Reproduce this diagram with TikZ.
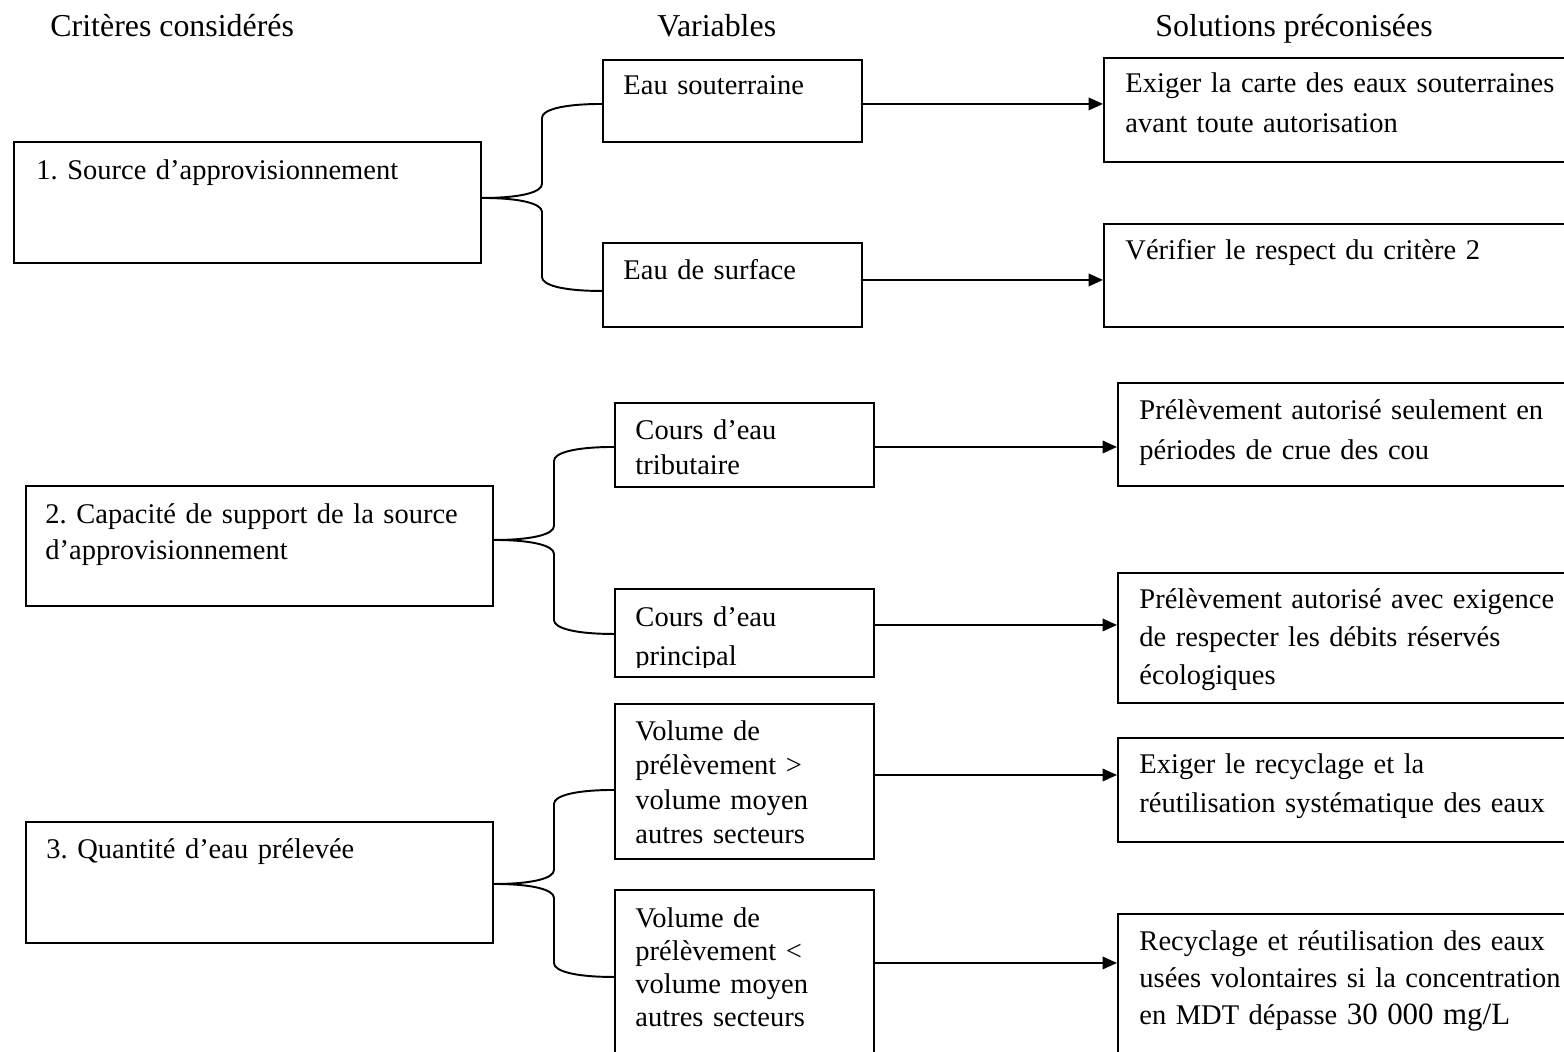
\documentclass[tikz,border=0pt]{standalone}
\usepackage{fontspec}
\setmainfont{Liberation Serif}
\usetikzlibrary{calc,arrows.meta}
\frenchspacing

% one drawing unit
\def\px{0.414pt}

\tikzset{
  box/.style={draw, line width=0.8pt, rectangle, inner sep=0pt, anchor=north west},
  txt/.style={anchor=base west, inner sep=0pt, align=left},
  head/.style={anchor=base west, inner sep=0pt, font=\fontsize{13.2}{16}\selectfont},
  link/.style={line width=0.8pt},
  arr/.style={line width=0.8pt, -{Triangle[length=6pt,width=5.2pt]}},
}

% rectangle with its north west corner at (x,y), size in drawing units
\newcommand\boxat[5]{\node[box, minimum width={#4*\px}, minimum height={#5*\px}] (#1) at (#2,#3) {};}

% bracket branch from a criterion box to the variable above / below it
\newcommand\branchup[4]{%
  \draw[link] let \p1=([yshift={-(#2)*\px}]#1.east), \p2=([yshift={-(#4)*\px}]#3.west),
                  \n1={0.5*\x1+0.5*\x2} in
    (\p1) .. controls ({\x1+40*\px},\y1) and (\n1,{\y1+6*\px}) .. (\n1,{\y1+14*\px})
    -- (\n1,{\y2-14*\px}) .. controls (\n1,{\y2-6*\px}) and ({\x2-40*\px},\y2) .. (\p2);}
\newcommand\branchdown[4]{%
  \draw[link] let \p1=([yshift={-(#2)*\px}]#1.east), \p2=([yshift={-(#4)*\px}]#3.west),
                  \n1={0.5*\x1+0.5*\x2} in
    (\p1) .. controls ({\x1+40*\px},\y1) and (\n1,{\y1-6*\px}) .. (\n1,{\y1-14*\px})
    -- (\n1,{\y2+14*\px}) .. controls (\n1,{\y2+6*\px}) and ({\x2-40*\px},\y2) .. (\p2);}

% horizontal arrow from a variable to its solution
\newcommand\arrowlink[3]{%
  \draw[arr] ([yshift={-(#3)*\px}]#1.east) -- ([yshift={-(#3)*\px}]#1.east -| #2.west);}

\begin{document}
\begin{tikzpicture}[x=0.414pt, y=-0.414pt, font=\fontsize{11.8}{16.15}\selectfont]
\useasboundingbox (0,0) rectangle (1564,1052);
\clip (0,0) rectangle (1564,1052);

% column headings
\node[head] (hc) at (50,37) {Critères considérés};
\node[head] (hv) at (657,37) {Variables};
\node[head] (hs) at (1155,37) {Solutions préconisées};

% criteria
\boxat{c1}{13}{141}{467}{121}
\node[txt, text width={440*\px}] (c1t) at (36,180) {1. Source d’approvisionnement};
\boxat{c2}{25}{485}{467}{120}
\node[txt, text width={440*\px}, font=\fontsize{11.8}{15.3}\selectfont] (c2t) at (45,523)
  {2. Capacité de support de la source\\d’approvisionnement};
\boxat{c3}{25}{821}{467}{121}
\node[txt, text width={440*\px}] (c3t) at (46,858) {3. Quantité d’eau prélevée};

% variables
\boxat{v1}{602}{59}{259}{82}
\node[txt, text width={235*\px}] (v1t) at (623,95) {Eau souterraine};
\boxat{v2}{602}{242}{259}{84}
\node[txt, text width={235*\px}] (v2t) at (623,280) {Eau de surface};
\boxat{v3}{614}{402}{259}{84}
\node[txt, text width={235*\px}, font=\fontsize{11.8}{14.1}\selectfont] (v3t) at (635,440)
  {Cours d’eau\\tributaire};
\boxat{v4}{614}{588}{259}{88}
\begin{scope}
  \clip (614,588) rectangle (873,667);
  \node[txt, text width={235*\px}, font=\fontsize{11.8}{16.15}\selectfont] (v4t) at (635,626)
    {Cours d’eau\\principal};
\end{scope}
\boxat{v5}{614}{703}{259}{155}
\node[txt, text width={235*\px}, font=\fontsize{11.8}{14.3}\selectfont] (v5t) at (635,740)
  {Volume de\\prélèvement >\\volume moyen\\autres secteurs};
\boxat{v6}{614}{889}{259}{174}
\node[txt, text width={235*\px}, font=\fontsize{11.8}{13.7}\selectfont] (v6t) at (635,927)
  {Volume de\\prélèvement <\\volume moyen\\autres secteurs};

% solutions
\boxat{s1}{1103}{57}{500}{104}
\node[txt, text width={480*\px}] (s1t) at (1125,93)
  {Exiger la carte des eaux souterraines\\avant toute autorisation};
\boxat{s2}{1103}{223}{500}{103}
\node[txt, text width={480*\px}] (s2t) at (1125,260) {Vérifier le respect du critère 2};
\boxat{s3}{1117}{382}{500}{103}
\node[txt, text width={480*\px}] (s3t) at (1139,420)
  {Prélèvement autorisé seulement en\\périodes de crue des cou};
\boxat{s4}{1117}{572}{500}{130}
\node[txt, text width={480*\px}, font=\fontsize{11.8}{15.9}\selectfont] (s4t) at (1139,608)
  {Prélèvement autorisé avec exigence\\de respecter les débits réservés\\écologiques};
\boxat{s5}{1117}{737}{500}{104}
\node[txt, text width={480*\px}] (s5t) at (1139,773)
  {Exiger le recyclage et la\\réutilisation systématique des eaux};
\boxat{s6}{1117}{913}{500}{200}
\node[txt, text width={480*\px}, font=\fontsize{11.8}{15.5}\selectfont] (s6t) at (1139,950)
  {Recyclage et réutilisation des eaux\\usées volontaires si la concentration\\en MDT dépasse {\fontsize{12.8}{15.5}\selectfont 30 000 mg/L}};

% brackets
\branchup{c1}{-4.5}{v1}{3}
\branchdown{c1}{-4.5}{v2}{6}
\branchup{c2}{-6}{v3}{2}
\branchdown{c2}{-6}{v4}{1}
\branchup{c3}{1.5}{v5}{8.5}
\branchdown{c3}{1.5}{v6}{0}

% arrows
\arrowlink{v1}{s1}{3}
\arrowlink{v2}{s2}{-5}
\arrowlink{v3}{s3}{2}
\arrowlink{v4}{s4}{-8}
\arrowlink{v5}{s5}{-6.5}
\arrowlink{v6}{s6}{-14}
\end{tikzpicture}
\end{document}
